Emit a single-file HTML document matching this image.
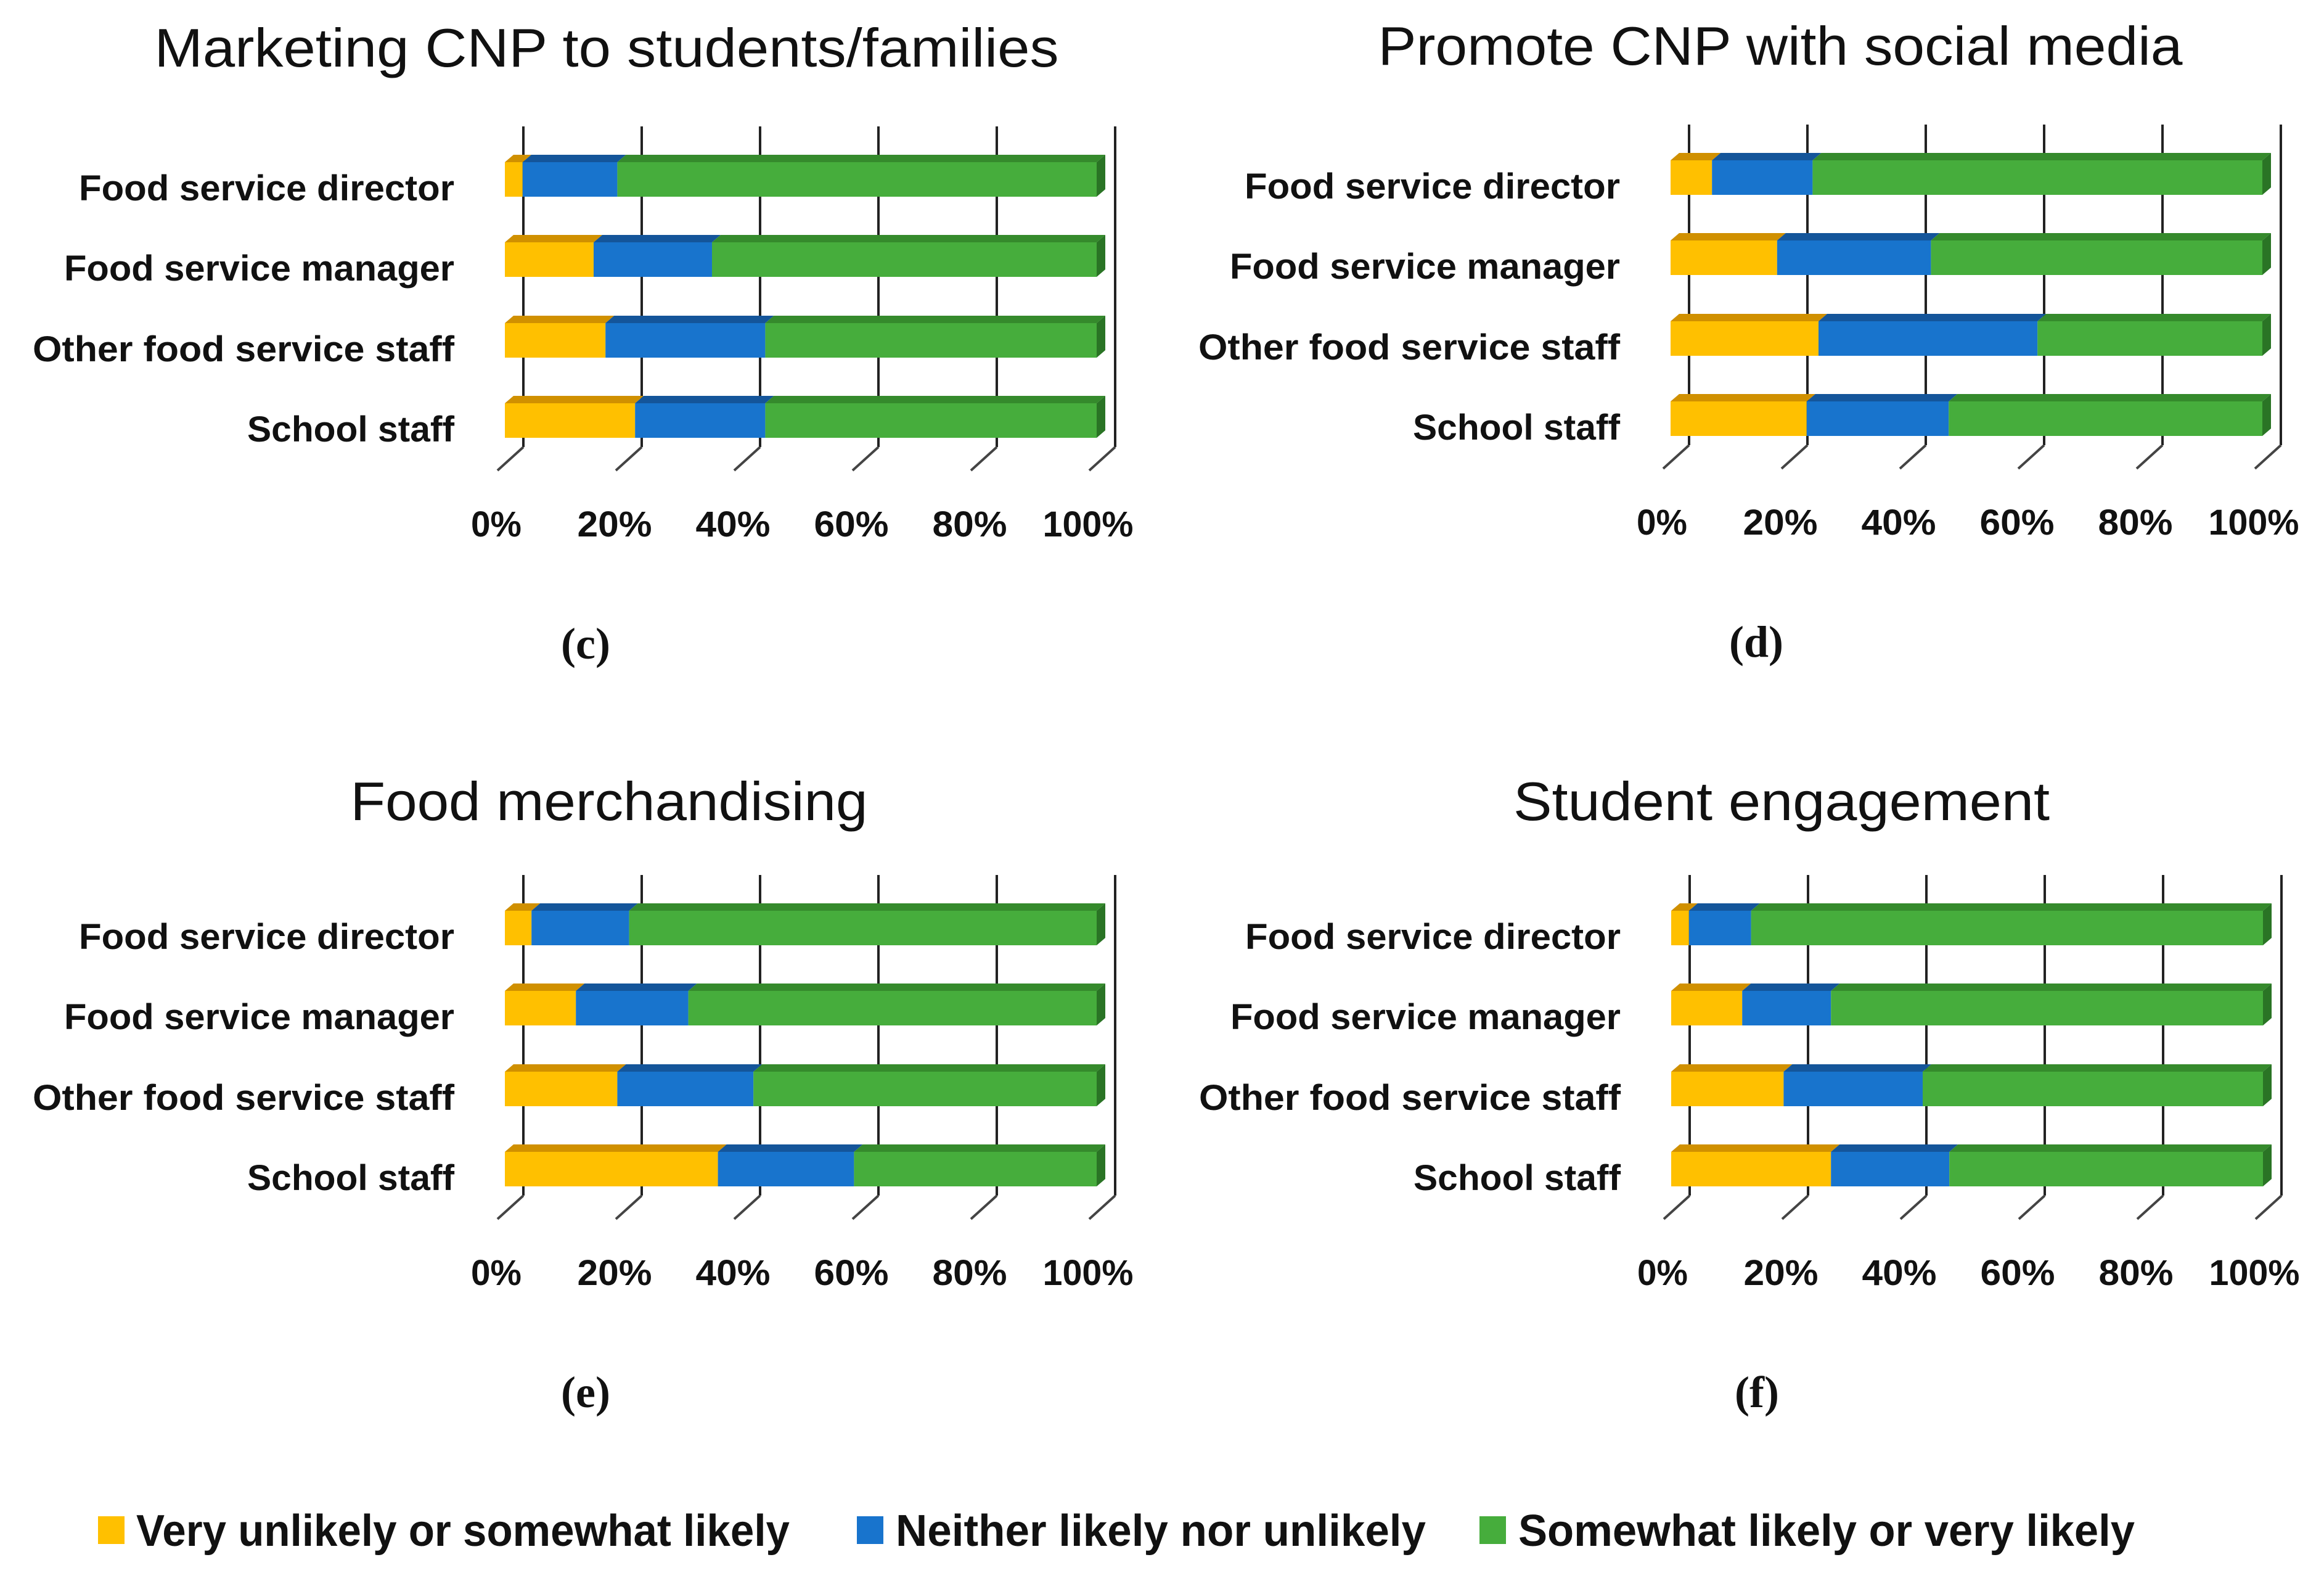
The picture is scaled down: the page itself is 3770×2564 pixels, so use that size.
<!DOCTYPE html>
<html><head><meta charset="utf-8"><style>
html,body{margin:0;padding:0;background:#fff;}
svg{display:block;}
text{font-family:"Liberation Sans",sans-serif;}
</style></head><body>
<svg id="chart" width="3770" height="2564" viewBox="0 0 3770 2564" xmlns="http://www.w3.org/2000/svg"></svg>
<script>
const categories = ["Food service director","Food service manager","Other food service staff","School staff"];
const tickLabels = ["0%","20%","40%","60%","80%","100%"];
const panelTitles = ["Marketing CNP to students/families","Promote CNP with social media","Food merchandising","Student engagement"];
const panelLetters = ["(c)","(d)","(e)","(f)"];
const seriesNames = ["Very unlikely or somewhat likely","Neither likely nor unlikely","Somewhat likely or very likely"];
// percent values per panel [panel][category]
const unlikelyVals = [[3,15,17,22],[7,18,25,23],[4.5,12,19,36],[3,12,19,27]];
const neitherVals  = [[16,20,27,22],[17,26,37,24],[16.5,19,23,23],[10.5,15,23.5,20]];
const likelyVals   = [[81,65,56,56],[76,56,38,53],[79,69,58,41],[86.5,73,57.5,53]];

const NS="http://www.w3.org/2000/svg";
const svg=document.getElementById('chart');
function mk(tag,attrs,parent){const e=document.createElementNS(NS,tag);for(const k in attrs)e.setAttribute(k,attrs[k]);(parent||svg).appendChild(e);return e;}

const fills=["#FFC000","#1874CD","#46AD3C"];
const tops=["#D09000","#14559A","#358A2C"];
const side="#2A7425";
const panels=[{ox:0,oy:0,tx:984,ty:108,tw:1467},{ox:1891,oy:-3,tx:2888,ty:105,tw:1305},{ox:0,oy:1214,tx:988,ty:1330,tw:839},{ox:1892,oy:1214,tx:2890,ty:1330,tw:870}];
const labelW=[609,633,684,336];
const tickW=[82,121,121,121,121,147];
const W=960, F0=819, rowY=[291,421,552,682], BH=56, DX=14, DY=12;

panels.forEach((p,pi)=>{
  const g=mk('g',{});
  
  
  const xs=v=>p.ox+F0+v/100*W;
  const t=mk('text',{x:p.tx,y:p.ty,'font-size':88,'text-anchor':'middle',textLength:p.tw,lengthAdjust:'spacingAndGlyphs',fill:'#111'},g);
  t.textContent=panelTitles[pi];
  
  
  const gTop=p.oy+205, gBot=p.oy+725;
  tickLabels.forEach((tl,i)=>{
    const gx=xs(i*20)+30;
    const l=mk('line',{x1:gx,y1:gTop,x2:gx,y2:gBot,stroke:'#222','stroke-width':4},g);
    
    
    const d=mk('line',{x1:gx,y1:gBot,x2:gx-42,y2:gBot+38,stroke:'#444','stroke-width':4},g);
    
    
    const tt=mk('text',{x:xs(i*20)-14,y:p.oy+870,'font-size':58,'font-weight':'bold','text-anchor':'middle',textLength:tickW[i],lengthAdjust:'spacingAndGlyphs',fill:'#111'},g);
    tt.textContent=tl;
    
    
  });
  categories.forEach((c,ci)=>{
    const cy=p.oy+rowY[ci];
    const lb=mk('text',{x:p.ox+737,y:cy+34,'font-size':58,'font-weight':'bold','text-anchor':'end',textLength:labelW[ci],lengthAdjust:'spacingAndGlyphs',fill:'#111'},g);
    lb.textContent=c;
    
    
    const vals=[unlikelyVals[pi][ci],neitherVals[pi][ci],likelyVals[pi][ci]];
    let acc=0;
    const y0=cy-BH/2;
    vals.forEach((v,si)=>{
      const x0=xs(acc), x1=xs(acc+v);
      const top=mk('polygon',{points:`${x0},${y0} ${x0+DX},${y0-DY} ${x1+DX},${y0-DY} ${x1},${y0}`,fill:tops[si]},g);
      
      
      const r=mk('rect',{x:x0,y:y0,width:Math.max(0,x1-x0),height:BH,fill:fills[si]},g);
      
      
      acc+=v;
    });
    const xe=xs(acc);
    const s=mk('polygon',{points:`${xe},${y0} ${xe+DX},${y0-DY} ${xe+DX},${y0+BH-DY} ${xe},${y0+BH}`,fill:side},g);
    
    
  });
  const lt=mk('text',{x:p.ox+950+(pi%2?8:0),y:p.oy+1068,'font-size':72,'font-weight':'bold','text-anchor':'middle',fill:'#111'},g);
  lt.textContent=panelLetters[pi];
  lt.style.fontFamily='"Liberation Serif",serif';
  
  
});

const legX=[[159,221,1060],[1390,1453,860],[2400,2463,1000]];
seriesNames.forEach((n,i)=>{
  const g=mk('g',{});
  
  
  mk('rect',{x:legX[i][0],y:2459,width:43,height:45,fill:fills[i]},g);
  const t=mk('text',{x:legX[i][1],y:2507,'font-size':72,'font-weight':'bold',textLength:legX[i][2],lengthAdjust:'spacingAndGlyphs',fill:'#111'},g);
  t.textContent=n;
});
</script>
</body></html>
